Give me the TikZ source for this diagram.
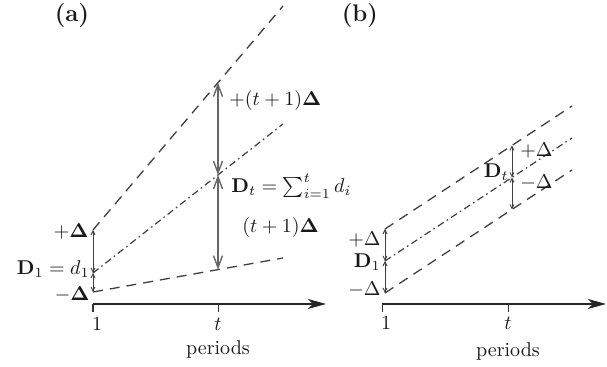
\documentclass[tikz,border=0pt]{standalone}
\usepackage{amsmath,bm}
\usetikzlibrary{arrows.meta}
\begin{document}
\begin{tikzpicture}[x=0.5pt,y=-0.5pt,
  lbl/.style={inner sep=0.5pt, text=black!90},
  dsh/.style={line width=0.65pt, dash pattern=on 5pt off 3.5pt, black!75},
  dashdot/.style={line width=0.6pt, dash pattern=on 3.5pt off 1.8pt on 0.8pt off 1.8pt, black!75},
  axis/.style={line width=0.6pt, black!85, -{Stealth[length=9pt,width=5pt,inset=2.5pt]}},
  tickmark/.style={line width=0.5pt, black!80},
  bigarr/.style={line width=0.7pt, black!60, {Straight Barb[length=6pt,width=4.5pt]}-{Straight Barb[length=6pt,width=4.5pt]}},
  smallarr/.style={line width=0.45pt, black!75, {Straight Barb[length=2pt,width=2pt]}-{Straight Barb[length=2pt,width=2pt]}},
]
\useasboundingbox (0,0) rectangle (607,367);

% ---------------- panel (a) ----------------
\node[lbl, font=\bfseries\large] (alab) at (72,16) {(a)};

\coordinate (a1) at (93,304);
\coordinate (at) at (218,304);
\coordinate (aend) at (326,304);
\draw[axis] (a1) -- (aend);
\coordinate (a1d) at (93,312);
\coordinate (atd) at (218,312);
\draw[tickmark] (a1) -- (a1d);
\draw[tickmark] (at) -- (atd);
\node[lbl] (aone) at (97,324) {$1$};
\node[lbl] (atl) at (218,324) {$t$};
\node[lbl] (aper) at (218,350) {periods};

\coordinate (aP) at (93,230);
\coordinate (aD) at (93,273);
\coordinate (aM) at (93,292);
\coordinate (aPe) at (283,6);
\coordinate (aDe) at (283,124);
\coordinate (aMe) at (283,258);
\draw[dsh] (aP) -- (aPe);
\draw[dashdot] (aD) -- (aDe);
\draw[dsh] (aM) -- (aMe);
\draw[smallarr] (aP) -- (aD);
\draw[smallarr] (aD) -- (aM);

\node[lbl, anchor=east] (aPl) at (90,231) {$+\bm{\Delta}$};
\node[lbl, anchor=east, inner sep=0pt] (aDl) at (90,269) {$\mathbf{D}_1=d_1$};
\node[lbl, anchor=east, inner sep=0pt] (aMl) at (90,294) {$-\bm{\Delta}$};

\coordinate (atP) at (218,82.6);
\coordinate (atD) at (218,175);
\coordinate (atM) at (218,269.6);
\draw[bigarr] (atP) -- (atD);
\draw[bigarr] (atD) -- (atM);

\node[lbl, anchor=west] (aup) at (228,101) {$+(t+1)\bm{\Delta}$};
\node[lbl, anchor=west] (asum) at (230,186) {$\mathbf{D}_t=\sum_{i=1}^{t} d_i$};
\node[lbl, anchor=west] (alow) at (241,228) {$(t+1)\bm{\Delta}$};

% ---------------- panel (b) ----------------
\node[lbl, font=\bfseries\large] (blab) at (360,16) {(b)};

\coordinate (b1) at (382,304);
\coordinate (bt) at (508,304);
\coordinate (bend) at (606,304);
\draw[axis] (b1) -- (bend);
\coordinate (b1d) at (382,312);
\coordinate (btd) at (508,312);
\draw[tickmark] (b1) -- (b1d);
\draw[tickmark] (bt) -- (btd);
\node[lbl] (bone) at (386,323) {$1$};
\node[lbl] (btl) at (508,323) {$t$};
\node[lbl] (bper) at (508,352) {periods};

\coordinate (bP) at (385,229);
\coordinate (bD) at (385,261);
\coordinate (bM) at (385,293);
\coordinate (bPe) at (572,106);
\coordinate (bDe) at (572,138);
\coordinate (bMe) at (572,170);
\draw[dsh] (bP) -- (bPe);
\draw[dashdot] (bD) -- (bDe);
\draw[dsh] (bM) -- (bMe);
\draw[smallarr] (bP) -- (bD);
\draw[smallarr] (bD) -- (bM);

\node[lbl, anchor=east] (bPl) at (382,240) {$+\Delta$};
\node[lbl, anchor=east] (bDl) at (382,262) {$\mathbf{D}_1$};
\node[lbl, anchor=east] (bMl) at (382,290) {$-\Delta$};

\coordinate (btP) at (512,145.4);
\coordinate (btD) at (512,177.5);
\coordinate (btM) at (512,209.4);
\draw[smallarr] (btP) -- (btD);
\draw[smallarr] (btD) -- (btM);

\node[lbl, anchor=east] (btDl) at (510,172) {$\mathbf{D}_t$};
\node[lbl, anchor=west] (btPl) at (519,151) {$+\Delta$};
\node[lbl, anchor=west] (btMl) at (519,183) {$-\Delta$};
\end{tikzpicture}
\end{document}
